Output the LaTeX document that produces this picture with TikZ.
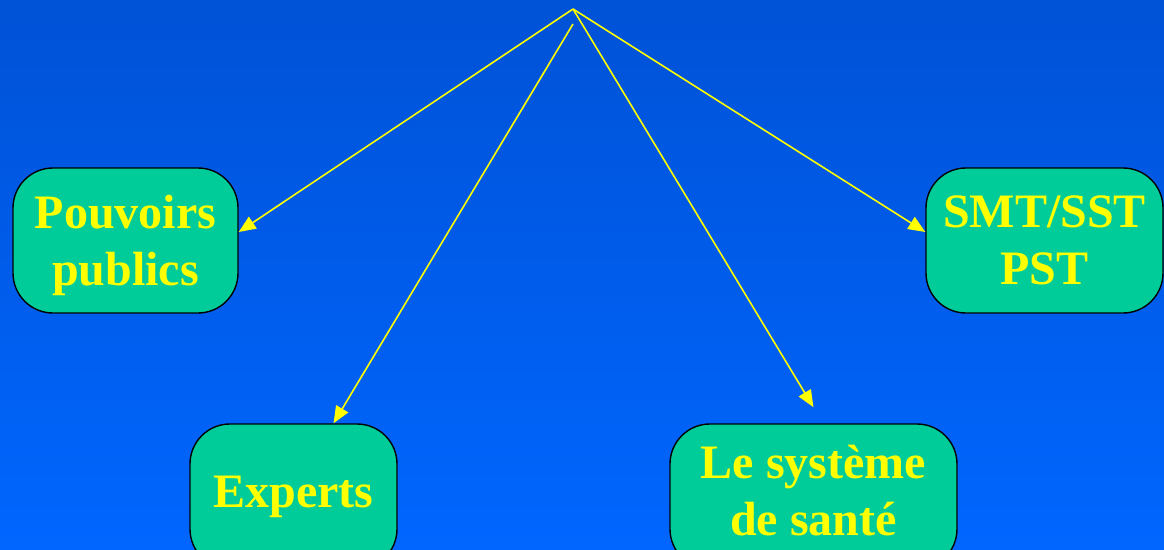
\documentclass[tikz,border=0pt]{standalone}
\usepackage{xcolor}
\usepackage{tikz}
\usepackage{fontspec}
\setmainfont{Liberation Serif}
\usetikzlibrary{arrows.meta}

\definecolor{bgtop}{RGB}{0,82,214}
\definecolor{bgbottom}{RGB}{0,102,255}
\definecolor{boxgreen}{RGB}{0,204,153}
\definecolor{labelyellow}{RGB}{255,255,0}

\begin{document}
\begin{tikzpicture} [x=1pt, y=-1pt,
    box/.style={ draw=black, line width=1.4pt, fill=boxgreen, rounded corners=40pt,
        minimum height=145pt, inner sep=0pt, align=center, text=labelyellow,
        font=\fontsize{48}{57}\selectfont\bfseries },
    link/.style={ draw=labelyellow, line width=1.6pt, -{Triangle[length=17pt,width=14pt]} } ]
    \shade[top color=bgtop, bottom color=bgbottom] (0,0) rectangle (1164,549);
    \useasboundingbox (0,0) rectangle (1164,549);
    \clip (0,0) rectangle (1164,549);

    \node [box, minimum width=225pt] (pouvoirs) at (125.5,240.5) {\rule{0pt}{44pt}Pouvoirs\\publics};
    \node [box, minimum width=237pt] (smt) at (1044.5,240.5) {SMT/SST\\PST};
    \node [box, minimum width=207pt] (experts) at (293.5,496.5) {Experts};
    \node [box, minimum width=287pt] (sante) at (813.5,496.5) {Le système\\de santé\rule[-13pt]{0pt}{13pt}};

    \coordinate (apex) at (573,9);
    \coordinate (apexlow) at (573,24);

    \draw [link] (apex) -- ([yshift=8.5pt]pouvoirs.east);
    \draw [link] (apex) -- ([yshift=8.5pt]smt.west);
    \draw [link] (apex) -- ([yshift=16pt]sante.north);
    \draw [link] (apexlow) -- ([xshift=40pt]experts.north);
    % the experts line starts a little below the others
\end{tikzpicture}
\end{document}
